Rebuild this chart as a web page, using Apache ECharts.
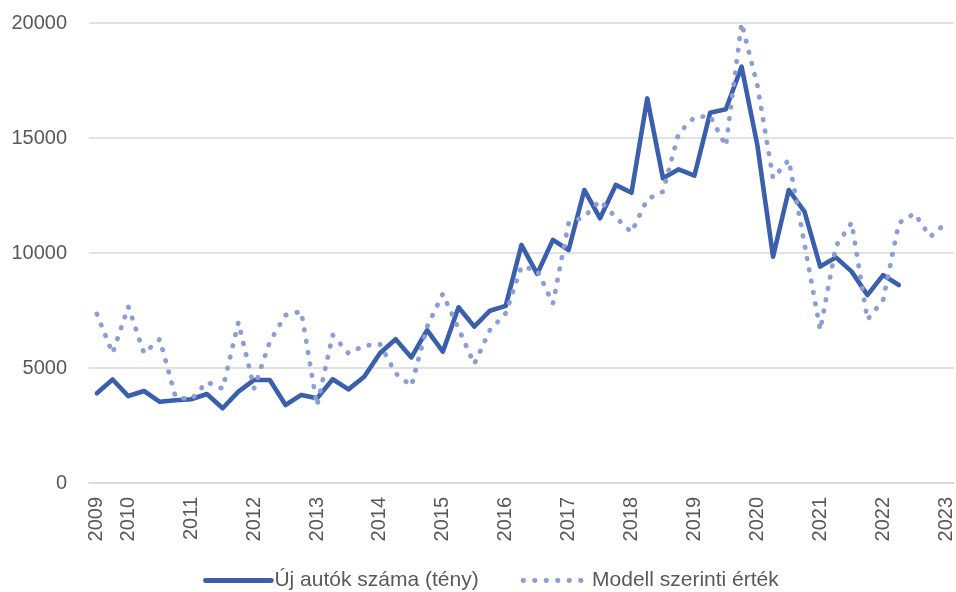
<!DOCTYPE html>
<html>
<head>
<meta charset="utf-8">
<script src="https://cdn.jsdelivr.net/npm/echarts@6/dist/echarts.min.js"></script>
<style>
html,body{margin:0;padding:0;background:#fff;}
#chart{width:956px;height:592px;}
</style>
</head>
<body>
<div id="chart"></div>
<script>
const quarters = [
  "2009 Q3","2009 Q4",
  "2010 Q1","2010 Q2","2010 Q3","2010 Q4",
  "2011 Q1","2011 Q2","2011 Q3","2011 Q4",
  "2012 Q1","2012 Q2","2012 Q3","2012 Q4",
  "2013 Q1","2013 Q2","2013 Q3","2013 Q4",
  "2014 Q1","2014 Q2","2014 Q3","2014 Q4",
  "2015 Q1","2015 Q2","2015 Q3","2015 Q4",
  "2016 Q1","2016 Q2","2016 Q3","2016 Q4",
  "2017 Q1","2017 Q2","2017 Q3","2017 Q4",
  "2018 Q1","2018 Q2","2018 Q3","2018 Q4",
  "2019 Q1","2019 Q2","2019 Q3","2019 Q4",
  "2020 Q1","2020 Q2","2020 Q3","2020 Q4",
  "2021 Q1","2021 Q2","2021 Q3","2021 Q4",
  "2022 Q1","2022 Q2","2022 Q3","2022 Q4",
  "2023 Q1"
];
const seriesNames = ["Új autók száma (tény)", "Modell szerinti érték"];
const actual = [
  3900, 4500,
  3780, 4000, 3530, 3600,
  3640, 3870, 3250, 3970,
  4480, 4480, 3390, 3830,
  3680, 4510, 4070, 4620,
  5640, 6250, 5460, 6650,
  5710, 7640, 6800, 7490,
  7700, 10350, 9090, 10570,
  10130, 12740, 11510, 12960,
  12620, 16720, 13250, 13640,
  13360, 16100, 16250, 18100,
  14700, 9840, 12740, 11800,
  9410, 9810, 9190, 8170,
  9040, 8610
];
const model = [
  7350, 5640,
  7670, 5640, 6250, 3750,
  3630, 4390, 4100, 6990,
  4120, 6150, 7300, 7460,
  3360, 6430, 5640, 5970,
  6040, 4770, 4220, 6800,
  8220, 6720, 5170, 6650,
  7380, 9410, 9250, 7800,
  11290, 11580, 12280, 11550,
  10900, 12330, 12670, 15200,
  15900, 15960, 14650, 20000,
  17300, 13250, 14050, 10400,
  6650, 10300, 11320, 7100,
  7950, 11300, 11720, 10710,
  11300
];
const yTicks = { min: 0, max: 20000, interval: 5000 };

const FONT = "'Liberation Sans', Arial, sans-serif";
const chart = echarts.init(document.getElementById('chart'), null, { renderer: 'canvas' });
chart.setOption({
  animation: false,
  backgroundColor: '#ffffff',
  grid: { left: 89, right: 0, top: 23, bottom: 109, containLabel: false },
  legend: {
    top: 565,
    left: 198,
    itemWidth: 66,
    itemHeight: 12,
    itemGap: 42,
    itemStyle: { opacity: 0, borderWidth: 0 },
    lineStyle: { width: 4.8, cap: 'round' },
    textStyle: { fontFamily: FONT, fontSize: 21, color: '#595959', padding: [0, 0, 0, -2] },
    data: seriesNames
  },
  xAxis: {
    type: 'category',
    data: quarters,
    boundaryGap: true,
    axisLine: { show: true, lineStyle: { color: '#D9D9D9', width: 1.5 } },
    axisTick: { show: false },
    axisLabel: {
      interval: 0,
      rotate: 90,
      margin: 14,
      fontFamily: FONT,
      fontSize: 20,
      color: '#595959',
      formatter: function (v, i) {
        return (i === 0 || v.endsWith('Q1')) ? v.slice(0, 4) : '';
      }
    },
    splitLine: { show: false }
  },
  yAxis: {
    type: 'value',
    min: yTicks.min,
    max: yTicks.max,
    interval: yTicks.interval,
    axisLine: { show: false },
    axisTick: { show: false },
    axisLabel: {
      margin: 22, fontFamily: FONT, fontSize: 20, color: '#595959',
      formatter: function (v) { return String(v); }
    },
    splitLine: { lineStyle: { color: '#D9D9D9', width: 1.5 } }
  },
  series: [
    {
      name: seriesNames[0],
      type: 'line',
      data: actual,
      symbol: 'none',
      color: '#3A5FAD',
      lineStyle: { color: '#3A5FAD', width: 4.6, join: 'round', cap: 'round' }
    },
    {
      name: seriesNames[1],
      type: 'line',
      data: model,
      symbol: 'none',
      color: '#8C9ED5',
      lineStyle: { color: '#8C9ED5', width: 4.8, type: [0.5, 11], cap: 'round', join: 'round' }
    }
  ]
});
</script>
</body>
</html>
